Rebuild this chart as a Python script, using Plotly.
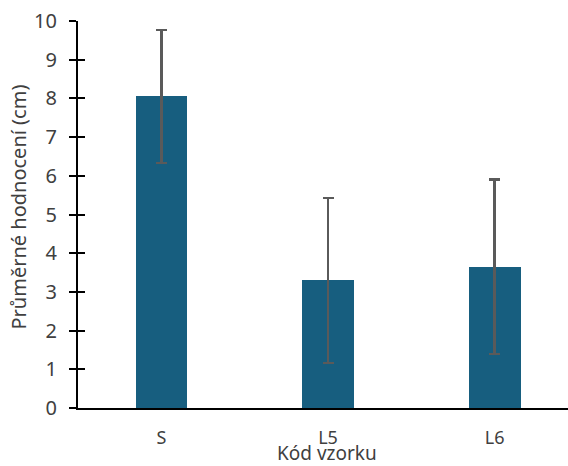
import plotly.graph_objects as go

categories = ["S", "L5", "L6"]
means = [8.05, 3.30, 3.65]
errors = [1.72, 2.13, 2.25]
y_ticks = [0, 1, 2, 3, 4, 5, 6, 7, 8, 9, 10]

FONT = "Noto Sans"
TXT = "#404040"

fig = go.Figure()
fig.add_trace(go.Bar(
    x=categories, y=means,
    width=0.31,
    marker=dict(color="#175E7F", line=dict(width=0)),
    error_y=dict(type="data", array=errors, visible=True,
                 color="#5A5A5A", thickness=2.4, width=5.5),
    showlegend=False, hoverinfo="skip",
))
# invisible companion trace so the inside-tick axis gets drawn
fig.add_trace(go.Scatter(
    x=categories, y=means, yaxis="y2", mode="markers",
    marker=dict(opacity=0), showlegend=False, hoverinfo="skip",
))

fig.update_layout(
    width=568, height=466,
    margin=dict(l=78, r=0, t=21, b=58, autoexpand=False),
    plot_bgcolor="white", paper_bgcolor="white",
    font=dict(family=FONT, color=TXT, size=20),
    bargap=0,
    xaxis=dict(
        range=[-0.5, 2.44], automargin=False,
        showline=True, linecolor="black", linewidth=2,
        ticks="", showgrid=False, zeroline=False,
        tickfont=dict(size=18, color=TXT, family=FONT),
        ticklabelstandoff=12,
    ),
    yaxis=dict(
        range=[0, 10], tickvals=y_ticks, automargin=False,
        showline=True, linecolor="black", linewidth=2,
        ticks="outside", ticklen=7, tickwidth=2, tickcolor="black",
        showgrid=False, zeroline=False,
        tickfont=dict(size=20, color=TXT, family=FONT),
        ticklabelstandoff=8,
    ),
    yaxis2=dict(
        overlaying="y", matches="y", side="left", automargin=False,
        range=[0, 10], tickvals=y_ticks,
        showline=False, ticks="inside", ticklen=7, tickwidth=2, tickcolor="black",
        showticklabels=False, showgrid=False, zeroline=False,
    ),
    annotations=[
        dict(text="Průměrné hodnocení (cm)", xref="paper", yref="paper",
             x=0, y=0.5, showarrow=False, textangle=-90,
             font=dict(size=20, color=TXT, family=FONT),
             xanchor="center", yanchor="middle", xshift=-60, yshift=7),
        dict(text="Kód vzorku", xref="paper", yref="paper",
             x=0.5, y=0, yshift=-45, xshift=4, showarrow=False,
             font=dict(size=19, color=TXT, family=FONT),
             xanchor="center", yanchor="middle"),
    ],
)

fig.write_html("out.html", config={"displayModeBar": False},
               post_script="document.body.style.margin='0';document.body.style.padding='0';")
